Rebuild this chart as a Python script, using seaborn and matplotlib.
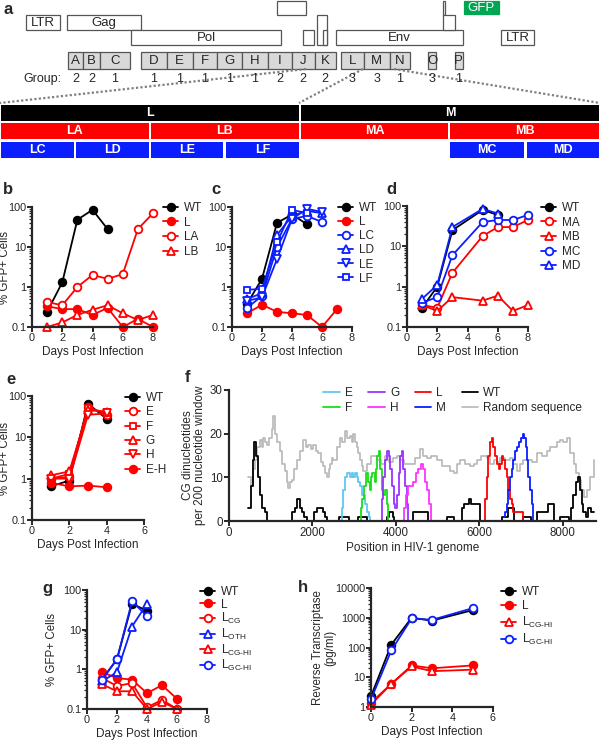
import numpy as np
import matplotlib
matplotlib.use('Agg')
import matplotlib.pyplot as plt
from matplotlib.patches import Rectangle
from matplotlib.ticker import LogLocator, NullFormatter, FuncFormatter
import seaborn as sns

sns.set_style('ticks')
plt.rcParams['font.family'] = ['Liberation Sans', 'DejaVu Sans']
plt.rcParams['mathtext.fontset'] = 'custom'
plt.rcParams['mathtext.rm'] = 'Liberation Sans'
plt.rcParams['mathtext.it'] = 'Liberation Sans:italic'
plt.rcParams['mathtext.bf'] = 'Liberation Sans:bold'

RED = '#ff0000'
BLUE = '#0a1eff'
BLACK = '#000000'

# --- panel a : genome map (schematic, pixel layout) ---
gene_names = ['LTR', 'Gag', 'Pol', '', '', '', '', 'Env', '', '', 'LTR']
gene_x0 = [26, 67, 131, 277, 303, 316.5, 322.6, 335.6, 443, 443, 501]
gene_x1 = [60, 141, 281, 306, 314, 327, 327, 463, 445, 455, 534]
gene_y0 = [15, 15, 30, 1, 30, 15, 30, 30, 1, 15, 30]
gene_y1 = [30, 30, 45, 15, 45, 45, 45, 45, 15, 30, 45]

frag_names = list('ABCDEFGHIJKLMNOP')
frag_x0 = [68, 83.4, 100, 141, 167, 192.5, 217, 242, 268, 292, 314.5, 340.6, 364, 389.6, 428, 454.6]
frag_x1 = [83.4, 100, 130, 167, 192.5, 217, 242, 268, 292, 314.5, 335.6, 364, 389.6, 409.5, 436, 463]
frag_group = [2, 2, 1, 1, 1, 1, 1, 1, 2, 2, 2, 3, 3, 1, 3, 1]

sub_names = ['L', 'M', 'LA', 'LB', 'MA', 'MB', 'LC', 'LD', 'LE', 'LF', 'MC', 'MD']
sub_x0 = [1, 301, 1, 151, 301, 450, 1, 76, 151, 226, 450, 526.5]
sub_x1 = [298.5, 599, 148.5, 298.5, 448, 599, 73.5, 148.5, 223, 298.5, 524, 599]
sub_row = [0, 0, 1, 1, 1, 1, 2, 2, 2, 2, 2, 2]

# --- panel b ---
b_days = [1, 2, 3, 4, 5, 6, 7, 8]
b_wt = [0.24, 1.3, 48, 85, 28]
b_l = [0.33, 0.28, 0.28, 0.2, 0.3, 0.1, 0.16, 0.1]
b_la = [0.42, 0.35, 1.0, 2.0, 1.6, 2.1, 28, 70]
b_lb = [0.1, 0.13, 0.2, 0.27, 0.35, 0.22, 0.15, 0.2]

# --- panel c ---
c_days = [1, 2, 3, 4, 5, 6, 7]
c_wt = [0.38, 1.6, 40, 65, 37]
c_l = [0.22, 0.36, 0.24, 0.22, 0.2, 0.1, 0.28]
c_lc = [0.3, 0.6, 10, 50, 60, 42]
c_ld = [0.5, 0.7, 20, 60, 80, 70]
c_le = [0.45, 0.55, 5, 50, 90, 75]
c_lf = [0.85, 0.9, 13, 85, 70]

# --- panel d ---
d_days = [1, 2, 3, 5, 6, 7, 8]
d_wt = [0.3, 1.0, 25, 80, 60]
d_ma = [0.35, 0.3, 2.2, 18, 30, 30, 45]
d_mb = [0.35, 0.25, 0.55, 0.45, 0.6, 0.25, 0.35]
d_mc = [0.4, 0.55, 6, 40, 45, 45, 60]
d_md = [0.5, 1.1, 30, 85, 65]

# --- panel e ---
e_days = [1, 2, 3, 4]
e_wt = [0.65, 0.9, 65, 28]
e_e = [1.0, 1.1, 55, 35]
e_f = [1.0, 1.3, 50, 40]
e_g = [1.2, 1.5, 45, 42]
e_h = [1.0, 1.0, 35, 38]
e_eh = [0.8, 0.65, 0.68, 0.62]

# --- panel f : CG dinucleotides per 200 nt window ---
f_rand_x = [464, 520, 580, 624, 680, 744, 790, 824, 870, 904, 950, 984, 1020, 1064, 1110, 1160,
            1224, 1280, 1344, 1390, 1424, 1460, 1504, 1560, 1624, 1700, 1784, 1840, 1904, 1960,
            2024, 2080, 2144, 2200, 2264, 2300, 2344, 2400, 2424, 2460, 2504, 2580, 2664, 2720,
            2784, 2840, 2904, 2950, 2984, 3030, 3064, 3100, 3144, 3190, 3224, 3300, 3400, 3544,
            3640, 3750, 3840, 3944, 4020, 4104, 4200, 4344, 4450, 4584, 4650, 4744, 4850, 4984,
            5100, 5224, 5300, 5384, 5460, 5544, 5650, 5784, 5870, 5944, 6050, 6184, 6260, 6344,
            6420, 6504, 6620, 6744, 6820, 6904, 6984, 7060, 7144, 7260, 7384, 7500, 7624, 7700,
            7784, 7870, 7944, 8020, 8104, 8184, 8264, 8330, 8384, 8450, 8504, 8584, 8664, 8744]
f_rand_y = [10, 8, 12, 14, 17, 18.5, 17, 19, 18, 17.5, 19, 19, 21, 24, 20, 18,
            16, 13, 11.5, 9, 7.5, 9, 9.5, 12, 14, 16, 18.5, 17, 17.5, 16.5,
            17.5, 16, 15.5, 13.5, 12.5, 11, 10, 12, 13, 14.5, 14, 17, 19, 18,
            20.5, 19, 19.5, 18, 20, 18, 17, 15.5, 14, 12.5, 11.5, 13, 15, 14,
            13, 15, 13.5, 14.5, 15, 14, 13, 13, 14.5, 16.5, 15, 14.5, 15, 14,
            12.5, 12.5, 11.5, 11, 13, 14, 13, 12.5, 13, 14, 15, 14.5, 13, 14,
            13.5, 14.5, 14, 14.5, 13, 11.5, 13, 14, 14, 13.5, 15.5, 15, 16, 17,
            17, 18, 18.5, 18, 19, 15.5, 13, 11, 9.5, 7, 5.5, 7, 10, 14]
f_wt_x = [464, 520, 570, 610, 650, 690, 744, 800, 864, 920, 1500, 1580, 1640, 1700, 1760, 1800,
          1860, 2050, 2100, 2250, 2300, 2344, 2640, 2870, 3100, 3300, 3800, 3830, 3930, 3960,
          4400, 4760, 5220, 5400, 5580, 5640, 5760, 5800, 6030, 6540, 6700, 6830, 7060, 7230,
          7380, 7660, 7790, 7940, 8150, 8200, 8260, 8320, 8360, 8420, 8460, 8500, 8560, 8620,
          8680, 8750]
f_wt_y = [3, 8, 14, 18, 15, 10, 6, 3, 2, 0, 2, 3, 5, 3, 2, 1,
          0, 2, 3, 2, 1, 0, 1, 0, 1, 0, 1, 2, 1, 0,
          2, 0, 1, 0, 3, 4, 5, 4, 0, 1, 3, 0, 1, 0,
          2, 4, 0, 1, 0, 3, 6, 9, 10, 7, 4, 2, 1, 3,
          2, 2]
f_e_x = [2664, 2700, 2740, 2784, 2830, 2900, 2950, 2984, 3030, 3064, 3100, 3144, 3200, 3264, 3310, 3350, 3384]
f_e_y = [0, 3, 7, 10, 11, 10, 11, 10, 11, 10, 9, 8, 6, 4, 2, 1, 0]
f_f_x = [3144, 3170, 3200, 3240, 3290, 3330, 3370, 3410, 3440, 3490, 3530, 3560, 3590, 3620, 3660, 3700, 3750, 3780, 3820]
f_f_y = [0, 3, 5, 8, 11, 9, 7, 10, 11, 9, 12, 15, 16, 12, 7, 6, 7, 4, 0]
f_g_x = [3624, 3660, 3700, 3740, 3780, 3830, 3870, 3910, 3950, 3990, 4030, 4070, 4110, 4150, 4180, 4220, 4260, 4300]
f_g_y = [0, 5, 10, 14, 16, 15, 12, 8, 4, 3, 6, 11, 15, 16, 12, 8, 4, 0]
f_h_x = [4144, 4200, 4250, 4290, 4420, 4480, 4540, 4600, 4650, 4700, 4750, 4800, 4840]
f_h_y = [0, 3, 6, 8, 9, 11, 12, 13, 12, 9, 7, 4, 0]
f_l_x = [6080, 6130, 6180, 6220, 6260, 6300, 6340, 6380, 6420, 6470, 6510, 6550, 6580, 6620, 6660, 6700, 6740, 6780, 6820, 7060]
f_l_y = [0, 5, 10, 15, 18, 19, 17, 15, 13, 12, 13, 15, 14, 12, 10, 7, 5, 4, 2, 0]
f_m_x = [6584, 6620, 6660, 6700, 6740, 6780, 6820, 6860, 6900, 6950, 7000, 7040, 7080, 7110, 7150, 7180, 7220, 7260, 7300]
f_m_y = [1, 2, 4, 7, 10, 12, 14, 16, 17, 18, 19, 20, 19, 17, 14, 10, 7, 4, 0]

# --- panel g ---
g_days = [1, 2, 3, 4, 5, 6]
g_wt = [0.55, 1.8, 45, 30]
g_l = [0.85, 0.6, 0.55, 0.25, 0.4, 0.18]
g_lcg = [0.6, 0.38, 0.45, 0.11, 0.17, 0.1]
g_loth = [0.5, 0.85, 12, 45]
g_lcghi = [0.42, 0.28, 0.28, 0.1, 0.15, 0.1]
g_lgchi = [0.55, 1.8, 52, 22]

# --- panel h ---
h_days = [0, 1, 2, 3, 5]
h_wt = [2.3, 125, 1000, 800, 1800]
h_l = [1.4, 6, 25, 20, 25]
h_lcghi = [1.2, 6, 23, 16, 18]
h_lgchi = [1.8, 80, 950, 850, 2100]

W, H = 600, 744
fig = plt.figure(figsize=(6, 7.44), dpi=100)


def add_ax(x0, x1, y0, y1):
    return fig.add_axes([x0 / W, 1 - y1 / H, (x1 - x0) / W, (y1 - y0) / H])


def series(ax, days, vals, color, marker, filled, label, ms=5.5):
    sns.lineplot(x=days[:len(vals)], y=vals, ax=ax, color=color, marker=marker,
                 markersize=ms, markerfacecolor=color if filled else 'white',
                 markeredgecolor=color, markeredgewidth=1.3, linewidth=1.3,
                 label=label, estimator=None, clip_on=False)


def style_axis(ax, xmax, xstep, ylim=(0.1, 100)):
    ax.set_yscale('log')
    ax.set_ylim(*ylim)
    ax.set_xlim(0, xmax)
    ax.set_xticks(np.arange(0, xmax + 1, xstep))
    ax.yaxis.set_major_locator(LogLocator(base=10, numticks=10))
    ax.yaxis.set_minor_locator(LogLocator(base=10, subs=np.arange(2, 10), numticks=30))
    ax.yaxis.set_major_formatter(FuncFormatter(lambda v, p: f'{v:g}'))
    ax.yaxis.set_minor_formatter(NullFormatter())
    sns.despine(ax=ax)
    for s in ['left', 'bottom']:
        ax.spines[s].set_linewidth(1.6)
    ax.tick_params(which='major', direction='out', length=3.5, width=1.4, labelsize=7.8, pad=1)
    ax.tick_params(axis='y', which='major', pad=0.3)
    ax.tick_params(axis='y', which='minor', direction='out', length=2.2, width=0.9)
    ax.set_xlabel('Days Post Infection', fontsize=8.5, labelpad=2)


def set_ylabel_px(ax, text, right_px, ax_left_px, ax_width_px, **kw):
    ax.set_ylabel(text, fontsize=8.3, **kw)
    ax.yaxis.set_label_coords((right_px - ax_left_px) / ax_width_px, 0.5)


def put_legend(ax, x, y, spacing=0.1, **kw):
    handles, labels = ax.get_legend_handles_labels()
    ax.legend(handles, labels, loc='upper left', bbox_to_anchor=(x / W, 1 - y / H),
              bbox_transform=fig.transFigure, frameon=False, fontsize=8.5,
              borderpad=0, borderaxespad=0, handlelength=1.3, handletextpad=0.45,
              labelspacing=spacing, **kw)


# ---------- panel a ----------
axa = fig.add_axes([0, 1 - 165 / H, 1, 165 / H])
axa.set_xlim(0, W)
axa.set_ylim(165, 0)
axa.axis('off')
for name, x0, x1, y0, y1 in zip(gene_names, gene_x0, gene_x1, gene_y0, gene_y1):
    axa.add_patch(Rectangle((x0, y0), x1 - x0, y1 - y0, fc='white', ec='#555555', lw=0.9))
    if name:
        axa.text((x0 + x1) / 2, (y0 + y1) / 2 + 0.5, name, ha='center', va='center', fontsize=9.5)
axa.add_patch(Rectangle((464, 1), 35, 13, fc='#00a651', ec='#00a651', lw=0.9))
axa.text(481.5, 7.8, 'GFP', ha='center', va='center', fontsize=9.5, color='white')

for name, x0, x1, grp in zip(frag_names, frag_x0, frag_x1, frag_group):
    axa.add_patch(Rectangle((x0, 52.4), x1 - x0, 16.5, fc='#d9d9d9', ec='#555555', lw=0.9))
    axa.text((x0 + x1) / 2, 61, name, ha='center', va='center', fontsize=9.5)
    axa.text((x0 + x1) / 2, 79, str(grp), ha='center', va='center', fontsize=9)
axa.text(61, 79, 'Group:', ha='right', va='center', fontsize=9)

for (xs, ys) in [([306, 0], [69, 103]), ([363, 299], [69, 103]), ([394, 600], [69, 103])]:
    axa.plot(xs, ys, color='#808080', lw=1.6, dashes=(1.0, 1.0))

row_y = [104.6, 123, 141.7]
row_c = [BLACK, RED, BLUE]
for name, x0, x1, r in zip(sub_names, sub_x0, sub_x1, sub_row):
    axa.add_patch(Rectangle((x0, row_y[r]), x1 - x0, 16, fc=row_c[r], ec='none'))
    axa.text((x0 + x1) / 2, row_y[r] + 8.3, name, ha='center', va='center',
             fontsize=9, color='white', fontweight='bold')

# ---------- panel b ----------
axb = add_ax(32, 153, 207, 327)
series(axb, b_days, b_wt, BLACK, 'o', True, 'WT')
series(axb, b_days, b_l, RED, 'o', True, 'L')
series(axb, b_days, b_la, RED, 'o', False, 'LA')
series(axb, b_days, b_lb, RED, '^', False, 'LB', ms=6)
style_axis(axb, 8, 2)
set_ylabel_px(axb, '% GFP+ Cells', 11.5, 32, 121)
put_legend(axb, 163, 202, spacing=0.22)

# ---------- panel c ----------
axc = add_ax(232, 352, 207, 327)
series(axc, c_days, c_wt, BLACK, 'o', True, 'WT')
series(axc, c_days, c_l, RED, 'o', True, 'L')
series(axc, c_days, c_lc, BLUE, 'o', False, 'LC')
series(axc, c_days, c_ld, BLUE, '^', False, 'LD', ms=6)
series(axc, c_days, c_le, BLUE, 'v', False, 'LE', ms=6)
series(axc, c_days, c_lf, BLUE, 's', False, 'LF', ms=5)
style_axis(axc, 8, 2)
axc.set_ylabel('')
put_legend(axc, 338, 202, spacing=0.18)

# ---------- panel d ----------
axd = add_ax(407, 528, 206, 327)
series(axd, d_days, d_wt, BLACK, 'o', True, 'WT')
series(axd, d_days, d_ma, RED, 'o', False, 'MA')
series(axd, d_days, d_mb, RED, '^', False, 'MB', ms=6)
series(axd, d_days, d_mc, BLUE, 'o', False, 'MC')
series(axd, d_days, d_md, BLUE, '^', False, 'MD', ms=6)
style_axis(axd, 8, 2)
axd.set_ylabel('')
put_legend(axd, 541, 202, spacing=0.22)

# ---------- panel e ----------
axe = add_ax(32, 144, 396, 520)
series(axe, e_days, e_wt, BLACK, 'o', True, 'WT')
series(axe, e_days, e_e, RED, 'o', False, 'E')
series(axe, e_days, e_f, RED, 's', False, 'F', ms=5)
series(axe, e_days, e_g, RED, '^', False, 'G', ms=6)
series(axe, e_days, e_h, RED, 'v', False, 'H', ms=6)
series(axe, e_days, e_eh, RED, 'o', True, 'E-H')
style_axis(axe, 6, 2)
set_ylabel_px(axe, '% GFP+ Cells', 11.5, 32, 112)
put_legend(axe, 125, 392, spacing=0.2)

# ---------- panel f ----------
axf = add_ax(229, 596, 390, 521)
f_series = [(f_e_x, f_e_y, '#5ec8f0', 'E'), (f_f_x, f_f_y, '#19dd19', 'F'),
            (f_g_x, f_g_y, '#9933ff', 'G'), (f_h_x, f_h_y, '#ff33ff', 'H'),
            (f_l_x, f_l_y, RED, 'L'), (f_m_x, f_m_y, BLUE, 'M')]
sns.lineplot(x=f_rand_x, y=f_rand_y, ax=axf, color='#b8b8b8', linewidth=1.2,
             estimator=None, drawstyle='steps-post', label='Random sequence')
sns.lineplot(x=f_wt_x, y=f_wt_y, ax=axf, color=BLACK, linewidth=1.3,
             estimator=None, drawstyle='steps-post', label='WT', clip_on=False)
for xs, ys, col, lab in f_series:
    sns.lineplot(x=xs, y=ys, ax=axf, color=col, linewidth=1.3, estimator=None,
                 drawstyle='steps-post', label=lab, clip_on=False)
axf.set_xlim(0, 8800)
axf.set_ylim(0, 30)
axf.set_xticks([0, 2000, 4000, 6000, 8000])
axf.set_yticks([0, 10, 20, 30])
sns.despine(ax=axf)
for s in ['left', 'bottom']:
    axf.spines[s].set_linewidth(1.6)
axf.tick_params(which='major', direction='out', length=3.5, width=1.4, labelsize=8.3, pad=1)
axf.set_xlabel('Position in HIV-1 genome', fontsize=8.5, labelpad=2)
axf.set_ylabel('CG dinucleotides\nper 200 nucleotide window', fontsize=8.5, labelpad=3,
               linespacing=1.0)
hf, lf = axf.get_legend_handles_labels()
order = ['E', 'F', 'G', 'H', 'L', 'M', 'WT', 'Random sequence']
hmap = dict(zip(lf, hf))
axf.legend([hmap[k] for k in order], order, ncol=4, loc='upper left',
           bbox_to_anchor=(323 / W, 1 - 387 / H), bbox_transform=fig.transFigure,
           frameon=False, fontsize=8.5, borderpad=0, borderaxespad=0, handlelength=1.4,
           handletextpad=0.45, labelspacing=0.25, columnspacing=1.3)

# ---------- panel g ----------
axg = add_ax(87, 207, 590, 709)
series(axg, g_days, g_wt, BLACK, 'o', True, 'WT')
series(axg, g_days, g_l, RED, 'o', True, 'L')
series(axg, g_days, g_lcg, RED, 'o', False, r'L$_{\mathregular{CG}}$')
series(axg, g_days, g_loth, BLUE, '^', False, r'L$_{\mathregular{OTH}}$', ms=6)
series(axg, g_days, g_lcghi, RED, '^', False, r'L$_{\text{CG-HI}}$', ms=6)
series(axg, g_days, g_lgchi, BLUE, 'o', False, r'L$_{\text{GC-HI}}$')
style_axis(axg, 8, 2)
set_ylabel_px(axg, '% GFP+ Cells', 58, 87, 120)
put_legend(axg, 200, 586, spacing=0.05)

# ---------- panel h ----------
axh = add_ax(371, 493, 588, 707)
series(axh, h_days, h_wt, BLACK, 'o', True, 'WT')
series(axh, h_days, h_l, RED, 'o', True, 'L')
series(axh, h_days, h_lcghi, RED, '^', False, r'L$_{\text{CG-HI}}$', ms=6)
series(axh, h_days, h_lgchi, BLUE, 'o', False, r'L$_{\text{GC-HI}}$')
style_axis(axh, 6, 2, ylim=(1, 10000))
set_ylabel_px(axh, 'Reverse Transcriptase\n(pg/ml)', 336, 371, 122, linespacing=1.0)
put_legend(axh, 501, 586, spacing=0.2)

# panel letters
for lab, x, y in [('a', 3, 9), ('b', 3, 189), ('c', 211, 190), ('d', 386, 189),
                  ('e', 6, 380), ('f', 185, 378), ('g', 42, 589), ('h', 298, 587)]:
    fig.text(x / W, 1 - y / H, lab, fontsize=12, fontweight='bold', ha='left', va='center')

fig.savefig('out.png', dpi=100)
